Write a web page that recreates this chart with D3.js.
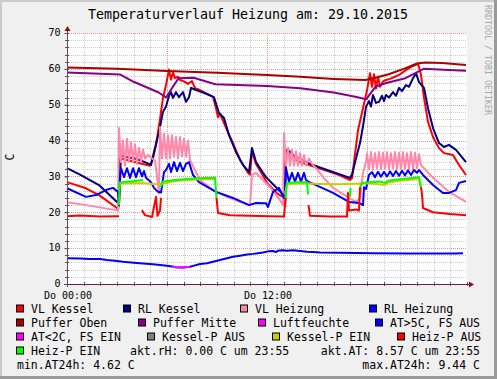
<!DOCTYPE html>
<html><head><meta charset="utf-8">
<script src="https://cdn.jsdelivr.net/npm/d3@7"></script>
<style>html,body{margin:0;padding:0;background:#f0f0f0;} svg{display:block;}</style>
</head><body>
<svg id="c" width="497" height="379"></svg>
<script>
// ---------- DATA ----------
const title = "Temperaturverlauf Heizung am: 29.10.2015";
const yAxisLabel = "C";
const yTicks = [0,10,20,30,40,50,60,70];
const xTicks = [0,12];
const xTickLabels = ["Do 00:00","Do 12:00"];
const watermark = "RRDTOOL / TOBI OETIKER";

// [hour, °C]
const vlKessel = [[0,28.4],[1.14,26.7],[1.92,24.8],[3.06,21.0],[3.12,22],[3.24,35],[4.08,34],[4.98,33],[5.16,35],[5.34,38.8],[5.58,46],[5.76,51.9],[5.94,55.5],[6.12,59.8],[6.24,57],[6.36,59],[6.48,57.4],[6.66,57.8],[6.78,56.9],[7.02,56.5],[7.26,55.8],[7.5,56.6],[7.68,54.6],[7.98,54.1],[8.76,52.2],[8.94,49],[9.06,46.5],[9.18,47.5],[9.6,42.9],[9.96,39.3],[10.38,34.6],[10.86,31.0],[10.98,30.5],[11.1,37],[11.34,33.5],[11.76,30.2],[12,28.2],[12.6,25.3],[13.02,24],[13.08,36],[13.2,37.5],[13.38,35.5],[13.98,34],[15.18,32.2],[16.38,30.3],[16.98,29.0],[17.1,29.5],[17.46,42.9],[17.76,49],[18,54],[18.18,58.8],[18.3,55],[18.42,58.5],[18.54,54.5],[18.66,57.8],[18.78,55],[18.96,56.5],[19.14,56.9],[19.38,57.2],[19.68,57.8],[19.92,58.3],[20.22,59.3],[20.52,60.2],[20.76,60.8],[20.94,61.1],[21.06,61.5],[21.18,59.5],[21.24,58.3],[21.42,51.9],[21.66,45.2],[21.96,41],[22.32,37.9],[22.62,36.5],[23.16,36],[23.52,33.2],[23.94,30.4]];
const rlKessel = [[0,32.3],[0.78,30.5],[1.92,27.6],[3.06,22.6],[3.12,24],[3.18,36],[3.48,35.5],[4.08,35],[4.68,34],[5.04,33.2],[5.22,36.8],[5.52,42.4],[5.76,48],[5.94,49.5],[6.12,52.5],[6.24,53.5],[6.36,51.9],[6.54,53.5],[6.72,52.1],[6.96,53.5],[7.14,50.8],[7.32,52.1],[7.44,54.7],[7.74,54.1],[8.28,53.2],[8.82,52.1],[9.12,47.7],[9.42,46.3],[9.72,41.5],[10.14,36.8],[10.56,33.2],[10.92,31.2],[11.1,37.9],[11.34,34],[11.76,31],[11.94,29.8],[12.54,27],[13.08,24.3],[13.14,35],[13.26,37.4],[13.68,35.5],[14.58,33.5],[15.78,31.5],[16.98,29.6],[17.1,30.5],[17.34,35],[17.58,39.3],[17.76,44],[17.94,49.4],[18.12,51],[18.24,49.5],[18.36,52.7],[18.54,50.5],[18.72,50.8],[18.9,52.5],[19.02,51],[19.14,52.7],[19.32,52],[19.56,53.5],[19.74,52.5],[19.92,54.7],[20.1,53.8],[20.34,55.5],[20.52,55],[20.76,57.4],[20.94,58.8],[21.12,56.3],[21.42,54.7],[21.66,49],[21.96,43.5],[22.32,39.3],[22.62,38.2],[22.92,38.8],[23.34,37.4],[23.94,34]];
const vlHeizung = [[0,22.8],[1.14,22],[2.94,20.6],[3.06,20.5],[3.12,43.5],[3.24,34],[3.36,40],[3.48,33],[3.6,40.5],[3.72,34],[3.84,39.5],[3.96,34],[4.08,39],[4.2,33.5],[4.32,38],[4.44,34],[4.56,37.5],[4.68,35],[4.86,36],[5.1,35],[5.28,34.5],[5.4,30],[5.52,25.3],[5.58,43.8],[5.7,35],[5.82,42],[5.94,35],[6.06,41.5],[6.18,35],[6.3,41.5],[6.42,35.5],[6.54,41],[6.66,35],[6.78,41],[6.9,35.5],[7.02,40.5],[7.14,35.5],[7.26,40],[7.38,34.6],[7.74,31.2],[7.98,29],[8.76,26.2],[9.6,24.3],[10.38,22.9],[10.98,22],[11.1,30.4],[11.34,31],[11.58,29.8],[12.18,27],[12.78,23.4],[12.96,22],[13.02,42.1],[13.14,33],[13.26,38],[13.38,33],[13.5,37.5],[13.62,33],[13.74,37],[13.86,33],[13.98,36.5],[14.1,33],[14.22,36],[14.34,33],[14.52,35],[14.7,33.5],[14.94,32.3],[15.42,29.5],[15.96,26.8],[16.92,24],[17.34,22.9],[17.58,24],[17.76,31],[17.94,34],[18.0,36.5],[18.12,32],[18.24,36.8],[18.36,32],[18.48,36.5],[18.6,32.2],[18.72,36.8],[18.84,32],[18.96,36.6],[19.08,32.2],[19.2,36.8],[19.32,32],[19.44,36.5],[19.56,32.2],[19.68,36.8],[19.8,32],[19.92,36.6],[20.04,32.2],[20.16,36.8],[20.28,32],[20.4,36.5],[20.52,32.2],[20.64,36.8],[20.76,32],[20.88,36.6],[21.0,32.3],[21.12,36.2],[21.24,33.2],[21.96,29.6],[22.92,25.7],[23.94,22.9]];
const rlHeizung = [[0,26.7],[1.14,24.3],[1.74,24.8],[2.34,26.2],[2.76,26.8],[3.06,25.7],[3.12,22],[3.18,30],[3.24,32.3],[3.42,29.8],[3.6,32.3],[3.78,29.6],[3.96,32.3],[4.14,29.8],[4.32,32.3],[4.5,30],[4.62,31.5],[4.74,29.6],[5.04,28.4],[5.22,26.8],[5.46,25.7],[5.64,25.5],[5.82,31.2],[5.94,31.8],[6.12,33.5],[6.24,31.2],[6.42,34],[6.6,31.5],[6.78,33.8],[6.96,31.5],[7.14,33.5],[7.32,34],[7.56,30.4],[7.92,28.4],[8.94,25.7],[9.96,24],[10.92,22],[11.34,22.6],[11.94,22.5],[12.06,21.5],[12.36,25.7],[12.72,26.8],[13.02,24],[13.08,26],[13.14,32.3],[13.32,28.5],[13.5,31],[13.68,28.5],[13.86,31],[14.04,28.5],[14.22,31],[14.34,29],[14.52,28.4],[14.94,27.6],[15.96,25.4],[16.92,22.9],[17.52,22.6],[17.76,22],[17.82,27],[17.94,26.5],[18.12,30.4],[18.3,31.2],[18.48,29.8],[18.66,31.3],[18.84,29.9],[19.02,31.3],[19.2,30],[19.38,31.4],[19.56,30.1],[19.74,31.5],[19.92,30.2],[20.1,31.6],[20.28,30.3],[20.46,31.7],[20.64,30.4],[20.82,31.8],[21.0,31],[21.12,31.8],[21.36,30.4],[21.96,27.6],[22.56,25.4],[22.92,25.4],[23.34,26.2],[23.52,28.2],[23.94,28.7]];
const pufferOben = [[0,60.4],[3,60.0],[6,59.4],[9,58.9],[12,58.3],[14,57.8],[16,57.2],[17,57.0],[17.9,56.9],[18.5,57.5],[19.3,58.5],[20.2,60.0],[21,61.5],[21.5,61.8],[22.5,61.6],[23.94,61.1]];
const pufferMitte = [[0,59.0],[3.2,58.4],[4.0,56.4],[4.7,55.0],[5.5,53.4],[5.95,52.0],[6.35,55],[6.7,57.4],[7.6,57.5],[8.9,55.7],[12,55.2],[14,54.6],[16,53.4],[17.3,52.2],[17.95,51.5],[18.5,55],[19.1,56],[20.3,57.4],[21.4,60],[22.9,59.7],[23.94,59.5]];
const aussenTemp = [[0,7.2],[0.78,7.1],[1.38,7.0],[1.98,7.0],[2.4,6.7],[2.88,6.5],[3.36,6.2],[3.84,6.0],[4.38,5.8],[5.16,5.5],[5.58,5.3],[6.0,5.1],[6.3,4.9],[6.54,4.7],[6.96,4.62],[7.38,4.8],[7.68,5.2],[7.98,5.6],[8.4,5.8],[8.76,6.2],[9.18,6.7],[9.6,7.2],[9.96,7.6],[10.38,7.9],[10.8,8.2],[11.16,8.4],[11.46,8.6],[11.76,8.8],[12.06,9.1],[12.36,9.2],[12.54,8.9],[12.66,9.3],[12.9,9.44],[13.2,9.3],[13.56,9.4],[13.98,9.2],[14.4,9.0],[14.76,8.9],[15.18,8.8],[16.38,8.7],[18.36,8.6],[20.4,8.5],[22.38,8.5],[23.28,8.5],[23.76,8.6]];
// pump state lines: segments
const heizPAus = [
  [[0,18.9],[0.78,19.1],[1.98,18.8],[3.06,18.9],[3.12,18.9]],
  [[4.5,20.6],[4.68,19.2],[5.1,18.7],[5.22,21.5],[5.34,24.3],[5.43,19],[5.58,20.5],[5.64,24]],
  [[8.97,24],[9.06,19.8],[9.78,19.2],[10.98,19.0],[12.18,18.9],[13.02,18.8],[13.11,24]],
  [[14.49,22],[14.58,19],[15.78,18.8],[16.8,18.8],[16.86,25.4],[16.92,20.5],[17.34,20.8],[17.52,20.5],[17.58,27]],
  [[21.24,27],[21.3,25],[21.36,21.2],[21.96,20],[22.98,19.5],[23.94,19.2]]
];
const heizPEin = [
  [[3.12,22],[3.15,28.3],[3.78,28.6],[4.56,29.0]],
  [[5.64,27],[5.7,28.5],[6.48,29.0],[7.2,29.3],[7.98,29.5],[8.88,29.6],[8.97,24]],
  [[13.11,24],[13.2,28.2],[13.8,28.4],[14.4,28.4],[14.46,25]],
  [[16.98,24.3],[17.01,26.8]],
  [[17.58,27],[17.7,28.2],[18.18,28.4],[18.78,28.6],[19.08,28.2],[19.26,28.8],[19.98,29.2],[20.58,29.5],[21.12,29.8],[21.24,27]]
];
const kesselPEin = [
  [[3.12,26],[3.18,28.0],[3.78,28.2],[4.68,28.1],[5.28,27.8],[5.7,27.9],[6.48,28.7],[7.2,29.0],[7.98,29.2],[8.88,29.3]],
  [[13.08,25],[13.2,27.9],[13.98,28.0],[14.46,28.0],[15.18,27.9],[16.38,27.8],[17.7,28.0],[18.18,28.1],[19.08,27.6],[19.26,28.3],[19.98,28.8],[21.12,29.3],[21.24,26.5]]
];
const kesselPAus = [
  [[13.1,21.5],[13.13,26.2]]
];

const legendLabels = ["VL Kessel","RL Kessel","VL Heizung","RL Heizung","Puffer Oben","Puffer Mitte","Luftfeuchte","AT>5C, FS AUS","AT<2C, FS EIN","Kessel-P AUS","Kessel-P EIN","Heiz-P AUS","Heiz-P EIN"];
const legendColors = ["#ff0000","#000080","#ff88aa","#0000ff","#aa0000","#880088","#ff00ff","#0000ff","#ff00ff","#808080","#cccc00","#ff0000","#00ff00"];
const infoTexts = ["akt.rH: 0.00 C um 23:55","akt.AT: 8.57 C um 23:55","min.AT24h: 4.62 C","max.AT24h: 9.44 C"];
const atThreshold = 5;

// ---------- LAYOUT ----------
const W = 497, H = 379;
const FONT = "'DejaVu Sans Mono', monospace";
const P = {l:67, r:467, t:33, b:284};
const legendPos = [[16,0],[123,0],[240,0],[369,0],[16,1],[138,1],[258,1],[375,1],[16,2],[147,2],[272,2],[397,2],[16,3]];
const infoPos = [[130,3,"start"],[480,3,"end"],[17,4,"start"],[480,4,"end"]];
const rowBase = [312.5,326.5,340.5,354.5,368.5];

const svg = d3.select("#c");
const x = d3.scaleLinear().domain([0,24]).range([P.l,P.r]);
const y = d3.scaleLinear().domain([0,70]).range([P.b,P.t]);

svg.append("rect").attr("width",W).attr("height",H).attr("fill","#f0f0f0");
svg.append("rect").attr("x",0).attr("y",0).attr("width",W).attr("height",2).attr("fill","#cbcbcb");
svg.append("rect").attr("x",0).attr("y",0).attr("width",2).attr("height",H).attr("fill","#cbcbcb");
svg.append("rect").attr("x",W-3).attr("y",0).attr("width",3).attr("height",H).attr("fill","#9a9a9a");
svg.append("rect").attr("x",0).attr("y",H-3).attr("width",W).attr("height",3).attr("fill","#9a9a9a");

svg.append("rect").attr("x",P.l).attr("y",P.t).attr("width",P.r-P.l).attr("height",P.b-P.t).attr("fill","#ffffff");

// grid
const g = svg.append("g");
const yMinor = d3.range(2,70,2).filter(v=>v%10!==0);
const yMajor = d3.range(10,71,10);
const xMinor = d3.range(1,24).filter(h=>h%6!==0);
const xMajor = [6,12,18];
g.selectAll(".ymin").data(yMinor).join("line")
  .attr("x1",P.l).attr("x2",P.r).attr("y1",d=>Math.round(y(d))+0.5).attr("y2",d=>Math.round(y(d))+0.5)
  .attr("stroke","#cccccc").attr("stroke-dasharray","1,1");
g.selectAll(".xmin").data(xMinor).join("line")
  .attr("y1",P.t).attr("y2",P.b).attr("x1",d=>Math.round(x(d))+0.5).attr("x2",d=>Math.round(x(d))+0.5)
  .attr("stroke","#cccccc").attr("stroke-dasharray","1,1");
g.selectAll(".ymaj").data(yMajor).join("line")
  .attr("x1",P.l).attr("x2",P.r).attr("y1",d=>Math.round(y(d))+0.5).attr("y2",d=>Math.round(y(d))+0.5)
  .attr("stroke","#f09090").attr("stroke-dasharray","1,1");
g.selectAll(".xmaj").data(xMajor).join("line")
  .attr("y1",P.t).attr("y2",P.b).attr("x1",d=>Math.round(x(d))+0.5).attr("x2",d=>Math.round(x(d))+0.5)
  .attr("stroke","#f09090").attr("stroke-dasharray","1,1");

// lines
const line = d3.line().x(d=>x(d[0])).y(d=>y(d[1]));
const lg = svg.append("g").attr("fill","none").attr("stroke-width",2).attr("stroke-linejoin","round");
function drawSeries(data, color){ lg.append("path").datum(data).attr("d",line).attr("stroke",color); }
function drawSegs(segs, color){ segs.forEach(s=>drawSeries(s,color)); }

drawSeries(vlKessel, legendColors[0]);
drawSeries(rlKessel, legendColors[1]);
drawSeries(vlHeizung, legendColors[2]);
drawSeries(rlHeizung, legendColors[3]);
drawSeries(pufferOben, legendColors[4]);
drawSeries(pufferMitte, legendColors[5]);
drawSeries(aussenTemp, legendColors[7]);
lg.append("path").datum(aussenTemp)
  .attr("d", d3.line().defined(d=>d[1]<atThreshold).x(d=>x(d[0])).y(d=>y(d[1])))
  .attr("stroke", legendColors[8]);
drawSegs(kesselPAus, legendColors[9]);
drawSegs(kesselPEin, legendColors[10]);
drawSegs(heizPAus, legendColors[11]);
drawSegs(heizPEin, legendColors[12]);

// axes
const axisColor = "#6a4a60";
const ax = svg.append("g");
ax.selectAll(".ty").data(d3.range(0,71,2)).join("line")
  .attr("x1",P.l-2).attr("x2",P.l+2).attr("y1",d=>Math.round(y(d))+0.5).attr("y2",d=>Math.round(y(d))+0.5)
  .attr("stroke",axisColor);
ax.selectAll(".tx").data(d3.range(0,25,1)).join("line")
  .attr("y1",P.b-2).attr("y2",P.b+2).attr("x1",d=>Math.round(x(d))+0.5).attr("x2",d=>Math.round(x(d))+0.5)
  .attr("stroke",axisColor);

const yAxis = d3.axisLeft(y).tickValues(yTicks).tickSize(3).tickPadding(4);
const ya = svg.append("g").attr("transform",`translate(${P.l+0.5},0)`).call(yAxis);
ya.select(".domain").remove();
ya.selectAll("line").attr("stroke",axisColor);
ya.selectAll("text").attr("font-family",FONT).attr("font-size","10px").attr("fill","#000").attr("dy","0.28em");

const xAxis = d3.axisBottom(x).tickValues(xTicks).tickFormat((d,i)=>xTickLabels[i]).tickSize(0).tickPadding(7.5);
const xa = svg.append("g").attr("transform",`translate(0.5,${P.b})`).call(xAxis);
xa.select(".domain").remove();
xa.selectAll("text").attr("font-family",FONT).attr("font-size","10px").attr("fill","#000");

ax.append("line").attr("x1",P.l+0.5).attr("x2",P.l+0.5).attr("y1",P.b+3).attr("y2",P.t-3).attr("stroke",axisColor);
ax.append("line").attr("x1",P.l-3).attr("x2",P.r+4).attr("y1",P.b+0.5).attr("y2",P.b+0.5).attr("stroke","#5a2048");
ax.append("path").attr("d",`M${P.l-2.5},${P.t-2} L${P.l+0.5},${P.t-7} L${P.l+3.5},${P.t-2} Z`).attr("fill","#8b1010");
ax.append("path").attr("d",`M${P.r+2},${P.b-2.5} L${P.r+7},${P.b+0.5} L${P.r+2},${P.b+3.5} Z`).attr("fill","#8b1010");

// title & labels
svg.append("text").attr("x",248).attr("y",18.5).attr("text-anchor","middle")
  .attr("font-family",FONT).attr("font-size","13.3px").attr("fill","#000").text(title);
svg.append("text").attr("transform","translate(14,157) rotate(-90)").attr("text-anchor","middle")
  .attr("font-family",FONT).attr("font-size","11.5px").attr("fill","#000").text(yAxisLabel);
svg.append("text").attr("transform","translate(485,5) rotate(90)").attr("text-anchor","start")
  .attr("font-family",FONT).attr("font-size","8.3px").attr("fill","#a8a8a8").text(watermark);

// legend
const leg = svg.append("g").attr("font-family",FONT).attr("font-size","11.5px").attr("fill","#000");
legendLabels.forEach((lab,i)=>{
  const [bx,row] = legendPos[i];
  const base = rowBase[row];
  leg.append("rect").attr("x",bx+0.5).attr("y",base-7.5).attr("width",7).attr("height",7)
    .attr("fill",legendColors[i]).attr("stroke","#000").attr("stroke-width",1);
  leg.append("text").attr("x",bx+15).attr("y",base).text(lab);
});
infoTexts.forEach((t,i)=>{
  const [tx,row,anchor] = infoPos[i];
  leg.append("text").attr("x",tx).attr("y",rowBase[row]).attr("text-anchor",anchor).text(t);
});
</script>
</body></html>
